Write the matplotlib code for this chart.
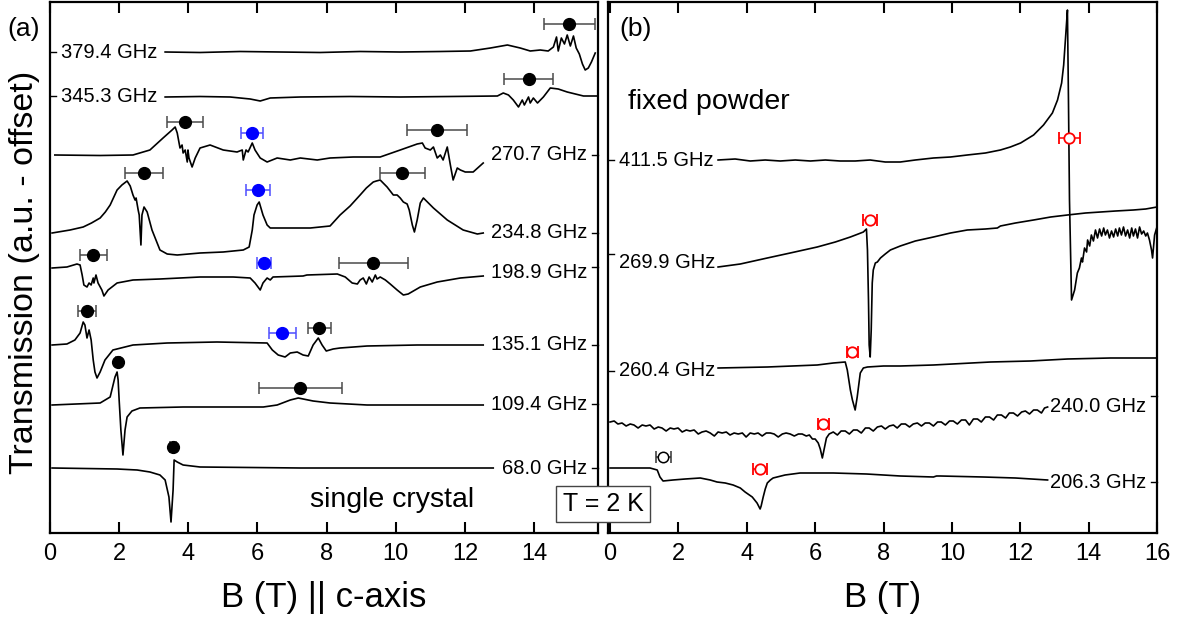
import numpy as np
import matplotlib
matplotlib.use("Agg")
import matplotlib.pyplot as plt
import matplotlib.transforms as mtransforms

plt.rcParams['font.family'] = ['Liberation Sans', 'DejaVu Sans']
NARROW = ['Liberation Sans Narrow', 'Liberation Sans', 'DejaVu Sans']

# ---- (a) single crystal, B || c : (B [T], transmission - offset [a.u.]) ----
sc_379 = np.array([
    (3.33, 481), (4.34, 480.5), (5.50, 481.5), (6.66, 481), (7.81, 480.5), (8.97, 481.5),
    (10.13, 481), (11.29, 481.5), (12.16, 482), (12.74, 485), (13.23, 488), (13.60, 485),
    (13.89, 482), (14.18, 483), (14.41, 482), (14.56, 486), (14.65, 496), (14.70, 482),
    (14.79, 495), (14.88, 489), (14.96, 498), (15.05, 487), (15.14, 497), (15.22, 485),
    (15.31, 479), (15.40, 469), (15.48, 463), (15.57, 465), (15.66, 471), (15.77, 480)])
sc_345 = np.array([
    (3.33, 436), (4.34, 436.5), (5.21, 436), (5.79, 434), (6.08, 432), (6.37, 435),
    (7.24, 436), (8.68, 436.5), (10.13, 436), (11.58, 436.5), (12.94, 437), (13.11, 440),
    (13.26, 438), (13.40, 433), (13.55, 426), (13.66, 433), (13.72, 428), (13.84, 436),
    (13.89, 430), (13.98, 435), (14.10, 430), (14.27, 436), (14.47, 445), (14.70, 444),
    (14.96, 441), (15.43, 437), (15.83, 437)])
sc_270 = np.array([
    (0.14, 378), (1.45, 377.5), (2.40, 378), (2.89, 383), (3.27, 395), (3.53, 403),
    (3.62, 406), (3.68, 400), (3.76, 385), (3.82, 388), (3.85, 380), (3.91, 383),
    (3.97, 371), (3.99, 383), (4.02, 375), (4.11, 366), (4.20, 375), (4.34, 385),
    (4.63, 388), (5.01, 383), (5.41, 381), (5.56, 383), (5.59, 373), (5.67, 383),
    (5.73, 381), (5.85, 390), (5.93, 383), (6.08, 375), (6.28, 371), (6.57, 375),
    (6.95, 373), (7.24, 375), (7.73, 373), (8.10, 375), (8.77, 376), (9.55, 376),
    (10.13, 383), (10.62, 389), (10.77, 390), (10.85, 385), (11.00, 383), (11.09, 386),
    (11.20, 375), (11.29, 378), (11.37, 373), (11.49, 386), (11.58, 368), (11.66, 353),
    (11.78, 365), (11.87, 363), (12.01, 361), (12.24, 361), (12.53, 370)])
sc_234 = np.array([
    (0.06, 300), (0.58, 303), (0.96, 306), (1.20, 310), (1.45, 315), (1.60, 321),
    (1.74, 328), (1.94, 343),
    (2.08, 348), (2.23, 352), (2.32, 347), (2.40, 338), (2.46, 333), (2.49, 335),
    (2.55, 323), (2.58, 318), (2.63, 288), (2.66, 318), (2.72, 326), (2.81, 321),
    (2.95, 303), (3.18, 283), (3.39, 279), (3.68, 278), (4.34, 280), (5.01, 281),
    (5.59, 283), (5.76, 286), (5.85, 303), (5.90, 318), (5.99, 328), (6.05, 331),
    (6.16, 318), (6.28, 308), (6.37, 305), (6.74, 305), (7.53, 305), (8.10, 307),
    (8.39, 318), (8.68, 327), (8.97, 338), (9.15, 345), (9.35, 351), (9.44, 352),
    (9.55, 353), (9.75, 346), (9.93, 338),
    (10.04, 338), (10.13, 335), (10.22, 331), (10.33, 329), (10.39, 323), (10.48, 308),
    (10.54, 301), (10.62, 313), (10.71, 330), (10.80, 335), (11.09, 325), (11.49, 313),
    (11.95, 303), (12.36, 299), (12.53, 300)])
sc_198 = np.array([
    (0.06, 265), (0.49, 266), (0.78, 269), (0.87, 268), (0.93, 258), (0.98, 248),
    (1.07, 246), (1.13, 250), (1.19, 248), (1.25, 255), (1.27, 250), (1.33, 258),
    (1.39, 250), (1.50, 243), (1.56, 237), (1.68, 243), (1.94, 250), (2.40, 253),
    (3.18, 254), (4.34, 256), (5.30, 256), (5.79, 255), (5.93, 250), (6.08, 243),
    (6.16, 250), (6.28, 255), (6.37, 253), (6.45, 256), (7.32, 257), (7.43, 258),
    (8.31, 259), (8.54, 256), (8.74, 250), (8.89, 249), (8.97, 253), (9.06, 255),
    (9.15, 249), (9.23, 256), (9.32, 251), (9.41, 258), (9.46, 254), (9.55, 256),
    (9.70, 253), (9.84, 249), (10.04, 243), (10.22, 238), (10.36, 239), (10.71, 246),
    (11.20, 251), (11.87, 255), (12.53, 257)])
sc_135 = np.array([
    (0.06, 188), (0.49, 189), (0.72, 193), (0.87, 200), (0.96, 211), (1.01, 208),
    (1.07, 195), (1.13, 203), (1.19, 193), (1.25, 173), (1.30, 161), (1.36, 155),
    (1.45, 161), (1.59, 173), (1.82, 183), (2.40, 188), (3.39, 190), (4.83, 191),
    (6.28, 190), (6.43, 183), (6.60, 178), (6.80, 176), (6.95, 180), (7.15, 181),
    (7.32, 178), (7.47, 177), (7.61, 188), (7.76, 195), (7.87, 188), (7.99, 182),
    (8.19, 184), (8.39, 185), (9.17, 187), (10.62, 188), (12.53, 188)])
sc_109 = np.array([
    (0.06, 128), (1.45, 130), (1.74, 136), (1.88, 156), (1.94, 161), (1.97, 153),
    (2.00, 133), (2.05, 103), (2.11, 78), (2.17, 103), (2.23, 116), (2.37, 122),
    (2.60, 125), (3.85, 126), (6.17, 126), (6.57, 128), (6.95, 133), (7.18, 135),
    (7.61, 132), (8.10, 130), (9.17, 128), (12.53, 128)])
sc_68 = np.array([
    (0.06, 65), (1.94, 64), (2.52, 63), (2.89, 61), (3.18, 58), (3.33, 53),
    (3.44, 36), (3.50, 11), (3.56, 43), (3.59, 73), (3.68, 71), (3.85, 68),
    (4.34, 66), (7.24, 65), (12.82, 65)])

sc_traces = [sc_379, sc_345, sc_270, sc_234, sc_198, sc_135, sc_109, sc_68]
sc_freqs = ['379.4 GHz', '345.3 GHz', '270.7 GHz', '234.8 GHz',
            '198.9 GHz', '135.1 GHz', '109.4 GHz', '68.0 GHz']
sc_label_y = [481, 437, 378, 300, 260, 188, 129, 65]
sc_tick_y = [481, 437, 378, 300, 266, 188, 129, 65]
sc_label_side = ['left', 'left', 'right', 'right', 'right', 'right', 'right', 'right']

# resonance fields with error bars: B, height, dB
sc_black_b = [15.02, 13.84, 3.91, 11.20, 2.72, 10.19, 1.25, 9.35, 1.07, 7.79, 1.97, 7.24, 3.56]
sc_black_y = [509, 454, 411, 403, 360, 360, 278, 270, 222, 205, 171, 145, 86]
sc_black_err = [0.74, 0.71, 0.52, 0.87, 0.56, 0.65, 0.39, 1.00, 0.27, 0.33, 0.06, 1.20, 0.08]
sc_blue_b = [5.85, 6.02, 6.19, 6.72]
sc_blue_y = [400, 343, 270, 200]
sc_blue_err = [0.32, 0.35, 0.21, 0.40]

# ---- (b) fixed powder ----
fp_411 = np.array([
    (3.16, 373), (3.66, 374), (4.10, 372), (4.54, 373), (4.98, 372), (5.42, 373),
    (5.86, 372), (6.30, 373), (6.73, 372), (7.17, 372), (7.61, 373), (8.05, 371),
    (8.49, 371), (8.93, 373), (9.46, 375), (9.96, 376), (10.45, 378), (10.98, 380),
    (11.42, 383), (11.71, 386), (12.01, 390), (12.39, 398), (12.68, 408), (12.94, 420),
    (13.09, 433), (13.21, 450), (13.27, 468), (13.32, 493), (13.35, 508), (13.38, 523),
    (13.41, 433), (13.44, 333), (13.50, 233), (13.59, 243), (13.67, 260), (13.73, 265),
    (13.79, 275), (13.82, 271), (13.88, 285), (13.94, 281), (13.97, 293), (14.03, 287),
    (14.08, 298), (14.14, 292), (14.20, 303), (14.26, 295), (14.32, 304), (14.38, 297),
    (14.44, 305), (14.49, 298), (14.55, 303), (14.61, 295), (14.67, 302), (14.73, 296),
    (14.79, 304), (14.85, 297), (14.90, 305), (14.96, 298), (15.02, 306), (15.08, 297),
    (15.14, 303), (15.20, 295), (15.26, 305), (15.31, 297), (15.37, 304), (15.43, 295),
    (15.49, 306), (15.55, 299), (15.61, 302), (15.67, 297), (15.72, 300), (15.78, 293),
    (15.84, 283), (15.87, 275), (15.93, 298), (15.99, 305)])
fp_269 = np.array([
    (3.16, 266), (3.81, 269), (4.60, 275), (5.27, 280), (6.06, 286), (6.59, 291),
    (7.03, 296), (7.26, 299), (7.41, 301), (7.50, 304), (7.53, 283), (7.56, 233),
    (7.58, 188), (7.61, 176), (7.64, 203), (7.67, 250), (7.70, 263), (7.76, 270),
    (7.82, 271), (7.91, 275), (8.05, 279), (8.20, 283), (8.49, 287), (8.93, 292),
    (9.46, 296), (9.96, 300), (10.45, 303), (10.98, 304), (11.33, 305), (11.42, 307),
    (11.86, 310), (12.39, 313), (12.89, 316), (13.38, 318), (13.91, 320), (14.35, 321),
    (14.79, 322), (15.31, 323), (15.67, 324), (16.00, 326)])
fp_260 = np.array([
    (3.16, 165), (4.60, 166), (6.06, 168), (6.53, 170), (6.88, 171), (6.94, 163),
    (7.03, 143), (7.09, 133), (7.17, 123), (7.23, 136), (7.32, 160), (7.41, 165),
    (7.53, 166), (8.00, 167), (8.49, 167), (9.46, 168), (11.13, 171), (12.30, 172),
    (13.38, 174), (14.64, 175), (16.00, 175)])
fp_240 = np.array([
    (0.00, 111), (0.12, 112), (0.23, 109), (0.35, 110), (0.47, 107), (0.59, 109),
    (0.70, 108), (0.82, 105), (0.94, 108), (1.05, 107), (1.17, 108), (1.29, 104),
    (1.41, 106), (1.52, 105), (1.64, 102), (1.76, 105), (1.87, 104), (1.99, 105),
    (2.11, 101), (2.23, 103), (2.34, 102), (2.46, 103), (2.58, 99), (2.69, 101),
    (2.81, 102), (2.93, 100), (3.05, 97), (3.16, 101), (3.28, 100), (3.40, 101),
    (3.51, 98), (3.63, 100), (3.75, 99), (3.87, 100), (3.98, 96), (4.10, 100),
    (4.22, 99), (4.33, 100), (4.45, 97), (4.57, 100), (4.69, 100), (4.80, 99),
    (4.92, 96), (5.04, 99), (5.15, 100), (5.27, 99), (5.39, 97), (5.51, 99),
    (5.62, 99), (5.74, 97), (5.83, 98), (5.92, 94), (6.00, 94), (6.09, 90),
    (6.15, 84), (6.21, 75), (6.27, 85), (6.33, 95), (6.41, 99), (6.53, 101),
    (6.65, 98), (6.76, 102), (6.88, 102), (7.00, 99), (7.12, 103), (7.23, 103),
    (7.35, 100), (7.47, 105), (7.58, 105), (7.70, 102), (7.82, 106), (7.94, 107),
    (8.05, 104), (8.17, 107), (8.29, 108), (8.40, 105), (8.52, 109), (8.64, 109),
    (8.76, 106), (8.87, 109), (8.99, 110), (9.11, 107), (9.22, 110), (9.34, 110),
    (9.46, 107), (9.58, 111), (9.69, 111), (9.81, 108), (9.93, 112), (10.04, 112),
    (10.16, 109), (10.28, 113), (10.40, 113), (10.51, 108), (10.63, 114), (10.75, 114),
    (10.86, 111), (10.98, 116), (11.10, 116), (11.22, 113), (11.33, 118), (11.45, 118),
    (11.57, 115), (11.68, 120), (11.80, 120), (11.92, 117), (12.04, 121), (12.15, 122),
    (12.27, 119), (12.39, 123), (12.50, 123), (12.62, 120), (12.71, 125), (12.80, 126)])
fp_206 = np.array([
    (0.00, 65), (0.59, 65), (1.17, 65), (1.38, 63), (1.46, 56), (1.55, 52),
    (1.84, 53), (2.20, 54), (2.64, 55), (2.93, 53), (3.13, 51), (3.37, 50),
    (3.60, 48), (3.81, 45), (3.95, 41), (4.16, 36), (4.30, 30), (4.36, 26),
    (4.39, 24), (4.42, 27), (4.48, 36), (4.54, 44), (4.60, 50), (4.69, 53),
    (4.77, 55), (5.12, 58), (5.56, 60), (6.53, 60), (7.50, 59), (8.49, 57),
    (9.46, 56), (9.55, 57), (9.66, 57), (10.92, 56), (11.86, 55), (12.80, 53)])

fp_traces = [fp_411, fp_269, fp_260, fp_240, fp_206]
fp_freqs = ['411.5 GHz', '269.9 GHz', '260.4 GHz', '240.0 GHz', '206.3 GHz']
fp_label_y = [373, 270, 162, 126, 51]
fp_tick_y = [373, 279, 162, 137, 51]
fp_label_side = ['left', 'left', 'left', 'right', 'right']

fp_red_b = [13.44, 7.61, 7.09, 6.24, 4.39]
fp_red_y = [395, 313, 181, 109, 64]
fp_red_err = [0.31, 0.20, 0.15, 0.16, 0.20]
fp_open_b = [1.55]
fp_open_y = [76]
fp_open_err = [0.22]

W, H = 1192, 635
fig = plt.figure(figsize=(W / 100, H / 100), dpi=100)
ax1 = fig.add_axes([50 / W, 1 - 533 / H, 548 / W, 531 / H])
ax2 = fig.add_axes([608 / W, 1 - 533 / H, 549 / W, 531 / H])


def style_axis(ax, xlim, ticks):
    ax.set_xlim(*xlim)
    ax.set_ylim(0, 531)
    ax.set_xticks(ticks)
    ax.set_yticks([])
    ax.tick_params(axis='x', direction='in', top=True, length=8, width=1.5, pad=7,
                   labelsize=17)
    for lab in ax.get_xticklabels():
        lab.set_family(NARROW)
    for sp in ax.spines.values():
        sp.set_linewidth(1.6)


def draw_labels(ax, freqs, label_y, tick_y, sides):
    trans = mtransforms.blended_transform_factory(ax.transAxes, ax.transData)
    for f, ly, ty, side in zip(freqs, label_y, tick_y, sides):
        if side == 'left':
            ax.plot([0, 0.011], [ty, ty], color='k', lw=1, transform=trans, clip_on=False)
            ax.text(0.02, ly, f, transform=trans, ha='left', va='center', fontsize=14.5)
        else:
            ax.plot([0.989, 1], [ty, ty], color='k', lw=1, transform=trans, clip_on=False)
            ax.text(0.98, ly, f, transform=trans, ha='right', va='center', fontsize=14.5)


ebar = dict(fmt='o', capsize=4.5, elinewidth=1.1, capthick=1.1, zorder=5)

# panel (a)
style_axis(ax1, (0, 15.85), range(0, 16, 2))
for tr in sc_traces:
    ax1.plot(tr[:, 0], tr[:, 1], color='k', lw=1.2)
ax1.errorbar(sc_black_b, sc_black_y, xerr=sc_black_err, color='k', ecolor='#4a4a4a',
             markersize=8.5, **ebar)
ax1.errorbar(sc_blue_b, sc_blue_y, xerr=sc_blue_err, color='#0000ff', ecolor='#4d4dff',
             markersize=8.5, **ebar)
draw_labels(ax1, sc_freqs, sc_label_y, sc_tick_y, sc_label_side)
ax1.text(-0.077, 0.95, '(a)', transform=ax1.transAxes, fontsize=19, va='center')
ax1.text(0.475, 0.062, 'single crystal', transform=ax1.transAxes, fontsize=20.5,
         ha='left', va='center')
ax1.set_xlabel('B (T) || c-axis', fontsize=25, family=NARROW, labelpad=12)

# panel (b)
style_axis(ax2, (-0.06, 16), range(0, 17, 2))
for tr in fp_traces:
    ax2.plot(tr[:, 0], tr[:, 1], color='k', lw=1.2)
ax2.errorbar(fp_red_b, fp_red_y, xerr=fp_red_err, color='#ff0000', ecolor='#ff0000',
             markerfacecolor='white', markeredgewidth=1.3, markersize=7.5, **ebar)
ax2.errorbar(fp_open_b, fp_open_y, xerr=fp_open_err, color='k', ecolor='#333333',
             markerfacecolor='white', markeredgewidth=1.1, markersize=7.5, **ebar)
draw_labels(ax2, fp_freqs, fp_label_y, fp_tick_y, fp_label_side)
ax2.text(0.02, 0.95, '(b)', transform=ax2.transAxes, fontsize=19, va='center')
ax2.text(0.036, 0.812, 'fixed powder', transform=ax2.transAxes, fontsize=20.5,
         ha='left', va='center')
ax2.set_xlabel('B (T)', fontsize=25, family=NARROW, labelpad=12)

fig.text(25 / W, 1 - 272 / H, 'Transmission (a.u. - offset)', rotation=90,
         fontsize=24.5, ha='center', va='center')
fig.text(603 / W, 1 - 504 / H, 'T = 2 K', fontsize=18, ha='center', va='center',
         bbox=dict(boxstyle='square,pad=0.25', facecolor='white', edgecolor='#444444',
                   linewidth=1))

fig.savefig('out.png', dpi=100)
